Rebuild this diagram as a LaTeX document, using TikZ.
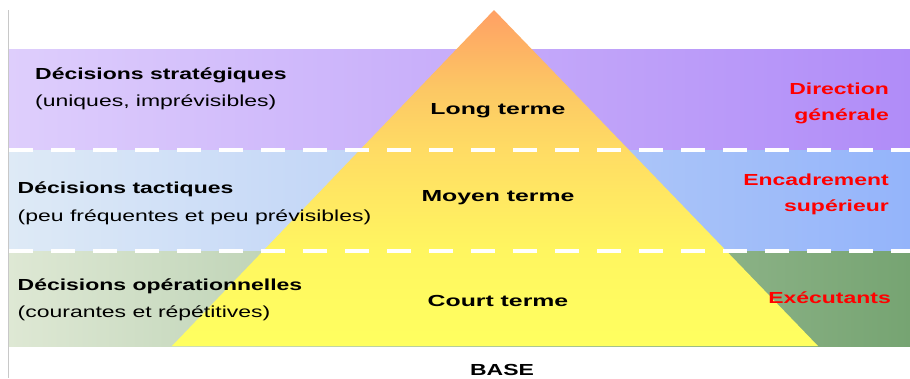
\documentclass[tikz,border=0pt]{standalone}
\usepackage{fontspec}
\setmainfont{Liberation Sans}
\usepackage{graphicx}
\definecolor{topL}{RGB}{222,206,252}
\definecolor{topR}{RGB}{176,140,248}
\definecolor{midL}{RGB}{222,234,246}
\definecolor{midR}{RGB}{148,180,250}
\definecolor{botL}{RGB}{222,232,212}
\definecolor{botR}{RGB}{118,164,114}
\definecolor{pyY}{RGB}{255,255,96}
\definecolor{pyY2}{RGB}{255,246,96}
\definecolor{pyM}{RGB}{255,220,100}
\definecolor{pyM2}{RGB}{252,200,100}
\definecolor{pyO}{RGB}{255,160,100}
\definecolor{redtxt}{RGB}{255,0,0}
\definecolor{edge}{RGB}{200,200,200}
\pgfdeclareverticalshading{pyr}{100bp}{color(0bp)=(pyY); color(25bp)=(pyY); color(39bp)=(pyY2); color(54bp)=(pyM); color(63bp)=(pyM2); color(75bp)=(pyO); color(100bp)=(pyO)}
\newcommand\sxa[1]{\scalebox{1.435}[1]{#1}}
\newcommand\sxb[1]{\scalebox{1.55}[1]{#1}}
\begin{document}
\begin{tikzpicture}[x=1pt,y=-1pt,
  lbl/.style={inner sep=0pt, font=\fontsize{16}{16}\selectfont\bfseries},
  sub/.style={inner sep=0pt, font=\fontsize{16}{16}\selectfont},
  rlbl/.style={lbl, text=redtxt, anchor=base east},
  dashline/.style={white, line width=3.5pt, dash pattern=on 24pt off 18pt}]
\useasboundingbox (0,0) rectangle (910,378);
% bands
\shade[left color=topL, right color=topR] (9,49) rectangle (910,150);
\shade[left color=midL, right color=midR] (9,150) rectangle (910,251);
\shade[left color=botL, right color=botR] (9,251) rectangle (910,346);
% pyramid
\coordinate (apex) at (494,10);
\coordinate (bl) at (172,346);
\coordinate (br) at (818,346);
\shade[shading=pyr] (apex) -- (br) -- (bl) -- cycle;
% dashed separators
\coordinate (d1a) at (9,150); \coordinate (d1b) at (910,150);
\coordinate (d2a) at (9,251); \coordinate (d2b) at (910,251);
\draw[dashline] (d1a) -- (d1b);
\draw[dashline] (d2a) -- (d2b);
% left edge
\coordinate (ea) at (8.5,10); \coordinate (eb) at (8.5,378);
\draw[edge, line width=1.5pt] (ea) -- (eb);
% left texts
\node[lbl, anchor=base west] (s1) at (35,79.5) {\sxa{Décisions stratégiques}};
\node[sub, anchor=base west] (s2) at (35,106.5) {\sxa{(uniques, imprévisibles)}};
\node[lbl, anchor=base west] (t1) at (17.5,193.5) {\sxa{Décisions tactiques}};
\node[sub, anchor=base west] (t2) at (17.5,221.5) {\sxa{(peu fréquentes et peu prévisibles)}};
\node[lbl, anchor=base west] (o1) at (17.5,290.5) {\sxa{Décisions opérationnelles}};
\node[sub, anchor=base west] (o2) at (17.5,317.3) {\sxa{(courantes et répétitives)}};
% centre texts
\node[lbl, anchor=base] (lt) at (498,114) {\sxb{Long terme}};
\node[lbl, anchor=base] (mt) at (498,201) {\sxb{Moyen terme}};
\node[lbl, anchor=base] (ct) at (498,306) {\sxb{Court terme}};
% right texts
\node[rlbl] (r1) at (889,94) {\sxa{Direction}};
\node[rlbl] (r2) at (889,120) {\sxa{générale}};
\node[rlbl] (r3) at (889,185.7) {\sxa{Encadrement}};
\node[rlbl] (r4) at (889,211.7) {\sxa{supérieur}};
\node[rlbl] (r5) at (891,303.3) {\sxa{Exécutants}};
% base
\node[lbl, anchor=base] (base) at (502,375.5) {\sxa{BASE}};
\end{tikzpicture}
\end{document}
